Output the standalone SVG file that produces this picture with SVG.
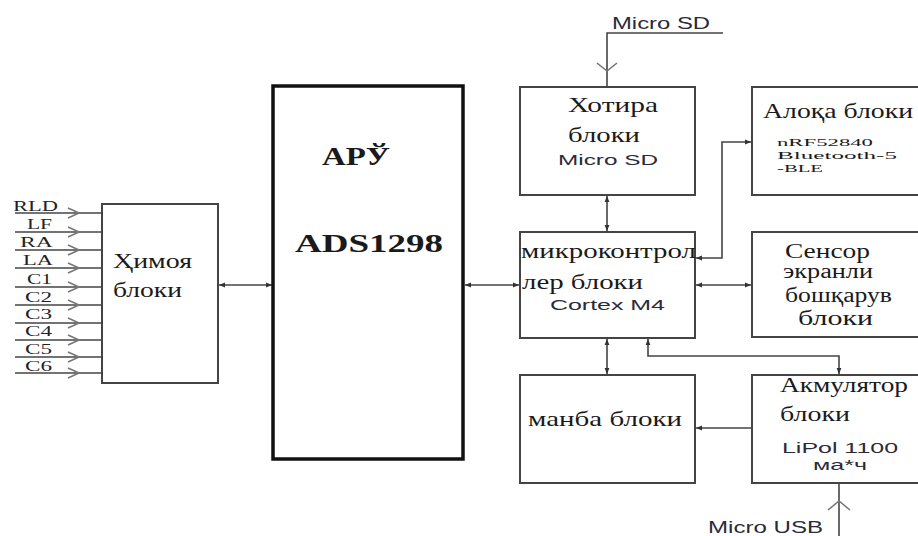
<svg xmlns="http://www.w3.org/2000/svg" width="918" height="536" viewBox="0 0 918 536">
<style>
.box{fill:#fff;stroke:#444;stroke-width:2}
.thick{fill:#fff;stroke:#111;stroke-width:3.5}
.ln{fill:none;stroke:#444;stroke-width:1.6}
.chev{fill:none;stroke:#777;stroke-width:1.6}
.ser{font-family:"Liberation Serif","DejaVu Serif",serif;fill:#1a1a1a}
.sans{font-family:"Liberation Sans","DejaVu Sans",sans-serif;fill:#2a2a3a}
.inp{font-family:"Liberation Serif","DejaVu Serif",serif;fill:#222;font-size:14px}
</style>
<defs>
<marker id="ah" viewBox="0 0 10 10" refX="10" refY="5" markerWidth="6" markerHeight="6" orient="auto-start-reverse" markerUnits="userSpaceOnUse">
<path d="M0,1 L10,5 L0,9 Z" fill="#333"/>
</marker>
</defs>
<rect width="918" height="536" fill="#fff"/>

<g id="connectors">
<g class="ln">
<line x1="15" y1="213" x2="102" y2="213"/>
<line x1="15" y1="232" x2="102" y2="232"/>
<line x1="15" y1="250" x2="102" y2="250"/>
<line x1="15" y1="268" x2="102" y2="268"/>
<line x1="15" y1="287" x2="102" y2="287"/>
<line x1="15" y1="305" x2="102" y2="305"/>
<line x1="15" y1="323" x2="102" y2="323"/>
<line x1="15" y1="340" x2="102" y2="340"/>
<line x1="15" y1="357" x2="102" y2="357"/>
<line x1="15" y1="373" x2="102" y2="373"/>
</g>
<g class="chev">
<path d="M68,208 L79,213 L68,218"/>
<path d="M68,227 L79,232 L68,237"/>
<path d="M68,245 L79,250 L68,255"/>
<path d="M68,263 L79,268 L68,273"/>
<path d="M68,282 L79,287 L68,292"/>
<path d="M68,300 L79,305 L68,310"/>
<path d="M68,318 L79,323 L68,328"/>
<path d="M68,335 L79,340 L68,345"/>
<path d="M68,352 L79,357 L68,362"/>
<path d="M68,368 L79,373 L68,378"/>
</g>
<line class="ln" x1="219" y1="285" x2="272" y2="285" marker-start="url(#ah)" marker-end="url(#ah)"/>
<line class="ln" x1="465" y1="285" x2="519" y2="285" marker-start="url(#ah)" marker-end="url(#ah)"/>
<line class="ln" x1="696" y1="285" x2="751" y2="285" marker-start="url(#ah)" marker-end="url(#ah)"/>
<line class="ln" x1="607" y1="196" x2="607" y2="231" marker-start="url(#ah)" marker-end="url(#ah)"/>
<line class="ln" x1="607" y1="339" x2="607" y2="374" marker-start="url(#ah)" marker-end="url(#ah)"/>
<path class="ln" d="M696,258 H722 V142 H751" marker-start="url(#ah)" marker-end="url(#ah)"/>
<path class="ln" d="M839,374 V356 H648 V339" marker-start="url(#ah)" marker-end="url(#ah)"/>
<line class="ln" x1="751" y1="428" x2="696" y2="428" marker-end="url(#ah)"/>
<path class="ln" d="M723,33 H607 V86"/>
<path class="chev" d="M597,63 L607,71 L617,63"/>
<line class="ln" x1="839" y1="536" x2="839" y2="484"/>
<path class="chev" d="M828,510 L839,501 L850,510"/>
</g>

<g id="inputs">
<text class="inp" x="13" y="211" textLength="45" lengthAdjust="spacingAndGlyphs">RLD</text>
<text class="inp" x="27" y="229" textLength="25" lengthAdjust="spacingAndGlyphs">LF</text>
<text class="inp" x="20" y="247" textLength="33" lengthAdjust="spacingAndGlyphs">RA</text>
<text class="inp" x="23" y="265" textLength="30" lengthAdjust="spacingAndGlyphs">LA</text>
<text class="inp" x="27" y="284" textLength="25" lengthAdjust="spacingAndGlyphs">C1</text>
<text class="inp" x="25" y="302" textLength="27" lengthAdjust="spacingAndGlyphs">C2</text>
<text class="inp" x="25" y="319" textLength="27" lengthAdjust="spacingAndGlyphs">C3</text>
<text class="inp" x="25" y="336" textLength="27" lengthAdjust="spacingAndGlyphs">C4</text>
<text class="inp" x="25" y="354" textLength="27" lengthAdjust="spacingAndGlyphs">C5</text>
<text class="inp" x="25" y="371" textLength="27" lengthAdjust="spacingAndGlyphs">C6</text>
</g>

<g id="himoya">
<rect class="box" x="102" y="204" width="116" height="179"/>
<text class="ser" x="113" y="268" font-size="22" textLength="79" lengthAdjust="spacingAndGlyphs">Ҳимоя</text>
<text class="ser" x="113" y="297" font-size="22" textLength="69" lengthAdjust="spacingAndGlyphs">блоки</text>
</g>

<g id="ads">
<rect class="thick" x="273" y="86" width="190" height="373"/>
<text class="ser" x="322" y="165" font-size="26" font-weight="bold" textLength="68" lengthAdjust="spacingAndGlyphs">АРЎ</text>
<text class="ser" x="295" y="252" font-size="26" font-weight="bold" textLength="148" lengthAdjust="spacingAndGlyphs">ADS1298</text>
</g>

<g id="hotira">
<rect class="box" x="520" y="87" width="175" height="108"/>
<text class="ser" x="568" y="112" font-size="22" textLength="90" lengthAdjust="spacingAndGlyphs">Хотира</text>
<text class="ser" x="568" y="142" font-size="22" textLength="72" lengthAdjust="spacingAndGlyphs">блоки</text>
<text class="sans" x="558" y="165" font-size="15" textLength="100" lengthAdjust="spacingAndGlyphs">Micro SD</text>
</g>

<g id="micro">
<rect class="box" x="520" y="232" width="175" height="106"/>
<text class="ser" x="521" y="258" font-size="22" textLength="175" lengthAdjust="spacingAndGlyphs">микроконтрол</text>
<text class="ser" x="522" y="289" font-size="22" textLength="121" lengthAdjust="spacingAndGlyphs">лер блоки</text>
<text class="sans" x="550" y="310" font-size="14" textLength="115" lengthAdjust="spacingAndGlyphs">Cortex M4</text>
</g>

<g id="manba">
<rect class="box" x="520" y="375" width="175" height="108"/>
<text class="ser" x="528" y="426" font-size="22" textLength="154" lengthAdjust="spacingAndGlyphs">манба блоки</text>
</g>

<g id="aloqa">
<rect class="box" x="752" y="87" width="170" height="108"/>
<text class="ser" x="763" y="118" font-size="22" textLength="150" lengthAdjust="spacingAndGlyphs">Алоқа блоки</text>
<text class="ser" x="777" y="146" font-size="11" textLength="96" lengthAdjust="spacingAndGlyphs">nRF52840</text>
<text class="ser" x="777" y="159" font-size="11" textLength="120" lengthAdjust="spacingAndGlyphs">Bluetooth-5</text>
<text class="ser" x="777" y="172" font-size="11" textLength="46" lengthAdjust="spacingAndGlyphs">-BLE</text>
</g>

<g id="sensor">
<rect class="box" x="752" y="232" width="170" height="105"/>
<text class="ser" x="785" y="258" font-size="20" textLength="85" lengthAdjust="spacingAndGlyphs">Сенсор</text>
<text class="ser" x="783" y="278" font-size="20" textLength="90" lengthAdjust="spacingAndGlyphs">экранли</text>
<text class="ser" x="785" y="302" font-size="20" textLength="107" lengthAdjust="spacingAndGlyphs">бошқарув</text>
<text class="ser" x="798" y="325" font-size="20" textLength="75" lengthAdjust="spacingAndGlyphs">блоки</text>
</g>

<g id="akkum">
<rect class="box" x="752" y="375" width="170" height="108"/>
<text class="ser" x="780" y="392" font-size="22" textLength="128" lengthAdjust="spacingAndGlyphs">Акмулятор</text>
<text class="ser" x="780" y="421" font-size="22" textLength="70" lengthAdjust="spacingAndGlyphs">блоки</text>
<text class="sans" x="782" y="453" font-size="15" textLength="116" lengthAdjust="spacingAndGlyphs">LiPol 1100</text>
<text class="sans" x="813" y="470" font-size="15" textLength="54" lengthAdjust="spacingAndGlyphs">ма*ч</text>
</g>

<g id="labels">
<text class="sans" x="612" y="29" font-size="16" textLength="98" lengthAdjust="spacingAndGlyphs">Micro SD</text>
<text class="sans" x="708" y="533" font-size="16" textLength="115" lengthAdjust="spacingAndGlyphs">Micro USB</text>
</g>
</svg>
